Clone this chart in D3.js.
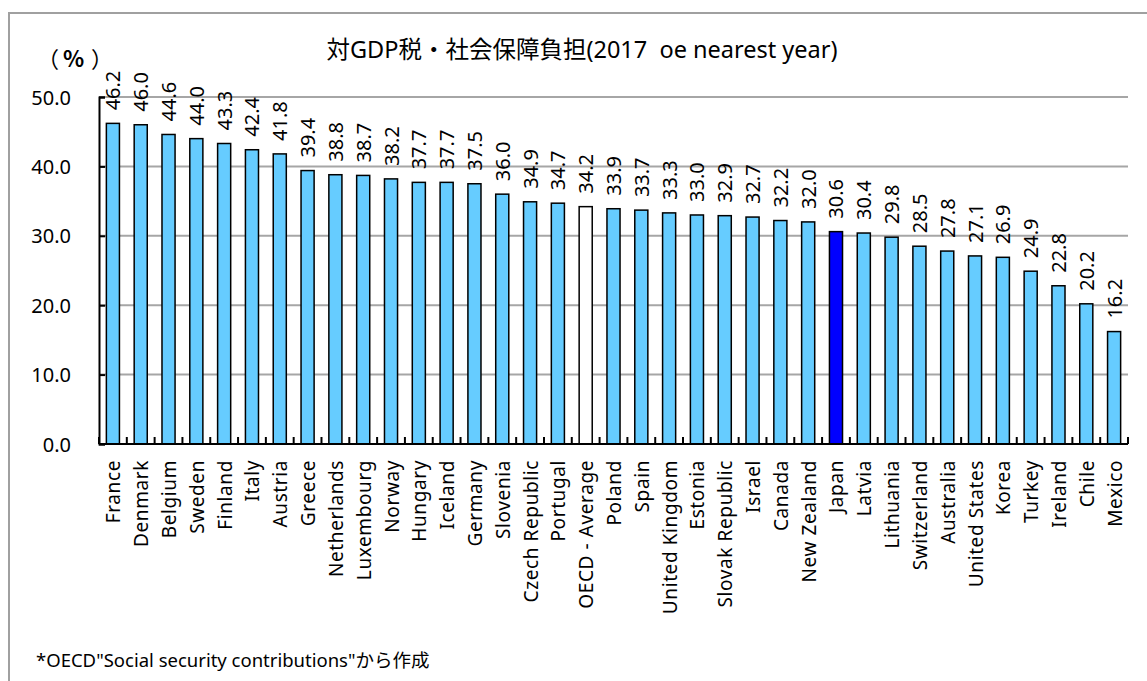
<!DOCTYPE html>
<html>
<head>
<meta charset="utf-8">
<script src="https://cdn.jsdelivr.net/npm/d3@7"></script>
<style>
  body { margin: 0; background: #fff; }
  svg { display: block; }
  text { font-family: "Noto Sans", "Noto Sans CJK JP", sans-serif; fill: #000; }
</style>
</head>
<body>
<svg id="chart"></svg>
<script>
// data
const countries = ["France", "Denmark", "Belgium", "Sweden", "Finland", "Italy", "Austria", "Greece",
  "Netherlands", "Luxembourg", "Norway", "Hungary", "Iceland", "Germany", "Slovenia", "Czech Republic",
  "Portugal", "OECD - Average", "Poland", "Spain", "United Kingdom", "Estonia", "Slovak Republic",
  "Israel", "Canada", "New Zealand", "Japan", "Latvia", "Lithuania", "Switzerland", "Australia",
  "United States", "Korea", "Turkey", "Ireland", "Chile", "Mexico"];
const values = [46.2, 46.0, 44.6, 44.0, 43.3, 42.4, 41.8, 39.4, 38.8, 38.7, 38.2, 37.7, 37.7, 37.5,
  36.0, 34.9, 34.7, 34.2, 33.9, 33.7, 33.3, 33.0, 32.9, 32.7, 32.2, 32.0, 30.6, 30.4, 29.8, 28.5,
  27.8, 27.1, 26.9, 24.9, 22.8, 20.2, 16.2];
const yTicks = [0, 10, 20, 30, 40, 50];
const titleText = "対GDP税・社会保障負担(2017  oe nearest year)";
const noteText = "*OECD\"Social security contributions\"から作成";

const data = countries.map((name, i) => ({ name, value: values[i] }));

const W = 1147, H = 681;
const margin = { top: 97, right: 19, bottom: 237, left: 99 };
const width = W - margin.left - margin.right;
const height = H - margin.top - margin.bottom;

const svg = d3.select("#chart").attr("width", W).attr("height", H);

// outer frame (runs off the right and bottom edge)
svg.append("rect")
  .attr("x", 9).attr("y", 13)
  .attr("width", 1200).attr("height", 700)
  .attr("fill", "none").attr("stroke", "#a0a0a0").attr("stroke-width", 2);

const x = d3.scaleBand().domain(countries).range([0, width]).paddingInner(0.53).paddingOuter(0.265);
const y = d3.scaleLinear().domain([0, 50]).range([height, 0]);

const g = svg.append("g").attr("transform", `translate(${margin.left},${margin.top})`);

// gridlines
g.selectAll("line.grid")
  .data(yTicks.filter(d => d > 0))
  .enter().append("line")
  .attr("class", "grid")
  .attr("x1", 0).attr("x2", width)
  .attr("y1", d => y(d)).attr("y2", d => y(d))
  .attr("stroke", "#a6a6a6").attr("stroke-width", 2);

// bars
const fillFor = d => d.name === "Japan" ? "#0000ff" : d.name === "OECD - Average" ? "#ffffff" : "#66ccff";

g.selectAll("rect.bar")
  .data(data)
  .enter().append("rect")
  .attr("class", "bar")
  .attr("x", d => x(d.name))
  .attr("y", d => y(d.value))
  .attr("width", x.bandwidth())
  .attr("height", d => y(0) - y(d.value))
  .attr("fill", fillFor)
  .attr("stroke", "#000").attr("stroke-width", 1.5);

// value labels, rotated
g.selectAll("text.val")
  .data(data)
  .enter().append("text")
  .attr("class", "val")
  .attr("transform", d => `translate(${x(d.name) + x.bandwidth() / 2 + 7.5},${y(d.value) - 13}) rotate(-90)`)
  .style("font-size", "20px")
  .text(d => d.value.toFixed(1));

// y axis
const yAxis = d3.axisLeft(y).tickValues(yTicks).tickSize(-6).tickPadding(28).tickFormat(d3.format(".1f"));
const ya = g.append("g").call(yAxis);
ya.select(".domain").attr("stroke", "#000").attr("stroke-width", 2);
ya.selectAll(".tick line").attr("stroke", "#000").attr("stroke-width", 2);
ya.selectAll(".tick text").style("font-size", "20px").attr("dy", "0.35em");

// x axis with tick marks between bars, pointing up
const xa = g.append("g").attr("transform", `translate(0,${height})`);
const edges = countries.map((c, i) => i * x.step()).concat([width]);
xa.selectAll("line.tk")
  .data(edges)
  .enter().append("line")
  .attr("class", "tk")
  .attr("x1", d => d).attr("x2", d => d)
  .attr("y1", 0).attr("y2", -7)
  .attr("stroke", "#000").attr("stroke-width", 2);
xa.append("line")
  .attr("x1", 0).attr("x2", width)
  .attr("stroke", "#000").attr("stroke-width", 2);

xa.selectAll("text.cat")
  .data(countries)
  .enter().append("text")
  .attr("class", "cat")
  .attr("transform", d => `translate(${x(d) + x.bandwidth() / 2 + 7.5},16) rotate(-90)`)
  .attr("text-anchor", "end")
  .style("font-size", "19px")
  .style("letter-spacing", "0.6px")
  .text(d => d);

// title and unit
svg.append("text")
  .attr("x", 582).attr("y", 58)
  .attr("text-anchor", "middle")
  .style("font-size", "23.5px")
  .attr("xml:space", "preserve")
  .text(titleText);

const unit = svg.append("text").attr("y", 67)
  .style("font-family", "'Noto Sans CJK JP', sans-serif").style("font-size", "22px");
unit.append("tspan").attr("x", 37).text("（");
unit.append("tspan").attr("x", 63).style("font-weight", "bold").text("%");
unit.append("tspan").attr("x", 91).text("）");

svg.append("text")
  .attr("x", 36).attr("y", 667)
  .style("font-size", "18.5px")
  .text(noteText);
</script>
</body>
</html>
